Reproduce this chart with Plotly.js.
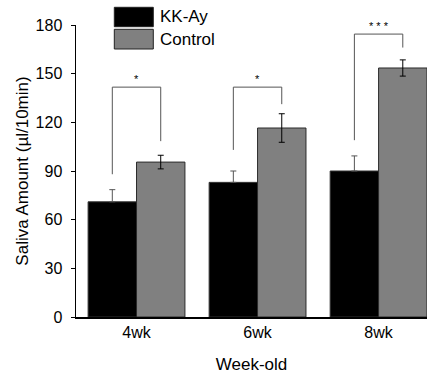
<!DOCTYPE html>
<html>
<head>
<meta charset="utf-8">
<script src="https://cdn.plot.ly/plotly-3.0.1.min.js"></script>
<style>html,body{margin:0;padding:0;background:#fff;}#chart{width:427px;height:374px;}</style>
</head>
<body>
<div id="chart"></div>
<script>
// ---- data ----
const categories = ["4wk", "6wk", "8wk"];
const kkayValues = [71, 83, 90];
const kkayErrors = [7.5, 7, 9.3];
const controlValues = [95.5, 116.5, 153.5];
const controlErrors = [4.2, 8.8, 5];
const seriesNames = ["KK-Ay", "Control"];
// significance brackets: left foot, top, right foot (y values)
const bracketLeft = [88, 103, 109];
const bracketTop = [141.7, 141.7, 174.4];
const bracketRight = [108.4, 131.2, 166.1];
const sigLabels = ["*", "*", "***"];

// ---- layout geometry ----
const W = 427, H = 374;
const ML = 76, MR = 0, MT = 25, MB = 57;
const PW = W - ML - MR, PH = H - MT - MB;
const px = x => (x - ML) / PW;
const py = y => (H - MB - y) / PH;
const FONT = "Liberation Sans, Arial, Helvetica, sans-serif";

const traces = [
  {
    type: "bar", name: seriesNames[0], x: categories, y: kkayValues,
    marker: {color: "#000000", line: {color: "#333333", width: 1}},
    error_y: {type: "data", symmetric: false, array: kkayErrors, arrayminus: kkayErrors.map(() => 0),
              visible: true, color: "#555555", thickness: 1, width: 3},
    showlegend: false
  },
  {
    type: "bar", name: seriesNames[1], x: categories, y: controlValues,
    marker: {color: "#808080", line: {color: "#2a2a2a", width: 1}},
    error_y: {type: "data", array: controlErrors, visible: true, color: "#000000", thickness: 1, width: 3},
    showlegend: false
  }
];

const shapes = [];
const annotations = [];
categories.forEach((c, i) => {
  const xl = i - 0.2, xr = i + 0.2;
  shapes.push({
    type: "path", xref: "x", yref: "y",
    path: `M ${xl},${bracketLeft[i]} L ${xl},${bracketTop[i]} L ${xr},${bracketTop[i]} L ${xr},${bracketRight[i]}`,
    line: {color: "#555555", width: 1}
  });
  annotations.push({
    xref: "x", yref: "y", x: i, y: bracketTop[i] + 5, text: sigLabels[i].split("").join(" "),
    showarrow: false, xanchor: "center", yanchor: "middle",
    font: {family: FONT, size: 11, color: "#000000"}
  });
});

// legend drawn manually (large swatches)
const legendColors = ["#000000", "#808080"];
const legendRows = [[7.3, 26.7], [29.3, 49]];
legendRows.forEach((r, k) => {
  shapes.push({
    type: "rect", xref: "paper", yref: "paper",
    x0: px(114.3), x1: px(153.3), y0: py(r[1]), y1: py(r[0]),
    fillcolor: legendColors[k], line: {color: "#222222", width: 1}
  });
  annotations.push({
    xref: "paper", yref: "paper", x: px(157.5), y: py((r[0] + r[1]) / 2),
    text: seriesNames[k], showarrow: false, xanchor: "left", yanchor: "middle",
    font: {family: FONT, size: 17, color: "#000000"}
  });
});

const layout = {
  width: W, height: H,
  margin: {l: ML, r: MR, t: MT, b: MB, pad: 0},
  paper_bgcolor: "#ffffff", plot_bgcolor: "#ffffff",
  font: {family: FONT, color: "#000000"},
  barmode: "group", bargap: 0.2, bargroupgap: 0,
  showlegend: false,
  xaxis: {
    type: "category", range: [-0.5, 2.4],
    showline: true, linecolor: "#000000", linewidth: 1.5,
    ticks: "", showgrid: false, zeroline: false,
    tickfont: {family: FONT, size: 16, color: "#000000"},
    title: {text: "Week-old", font: {family: FONT, size: 17, color: "#000000"}, standoff: 19}
  },
  yaxis: {
    range: [0, 180], tickvals: [0, 30, 60, 90, 120, 150, 180],
    showline: true, linecolor: "#000000", linewidth: 1.5,
    ticks: "outside", ticklen: 4, tickcolor: "#000000", tickwidth: 1,
    ticklabelstandoff: 5,
    showgrid: false, zeroline: false,
    tickfont: {family: FONT, size: 16, color: "#000000"},
    title: {text: "Saliva Amount (µl/10min)", font: {family: FONT, size: 17, color: "#000000"}, standoff: 2}
  },
  shapes: shapes,
  annotations: annotations
};

Plotly.newPlot("chart", traces, layout, {displayModeBar: false, staticPlot: true});
</script>
</body>
</html>
